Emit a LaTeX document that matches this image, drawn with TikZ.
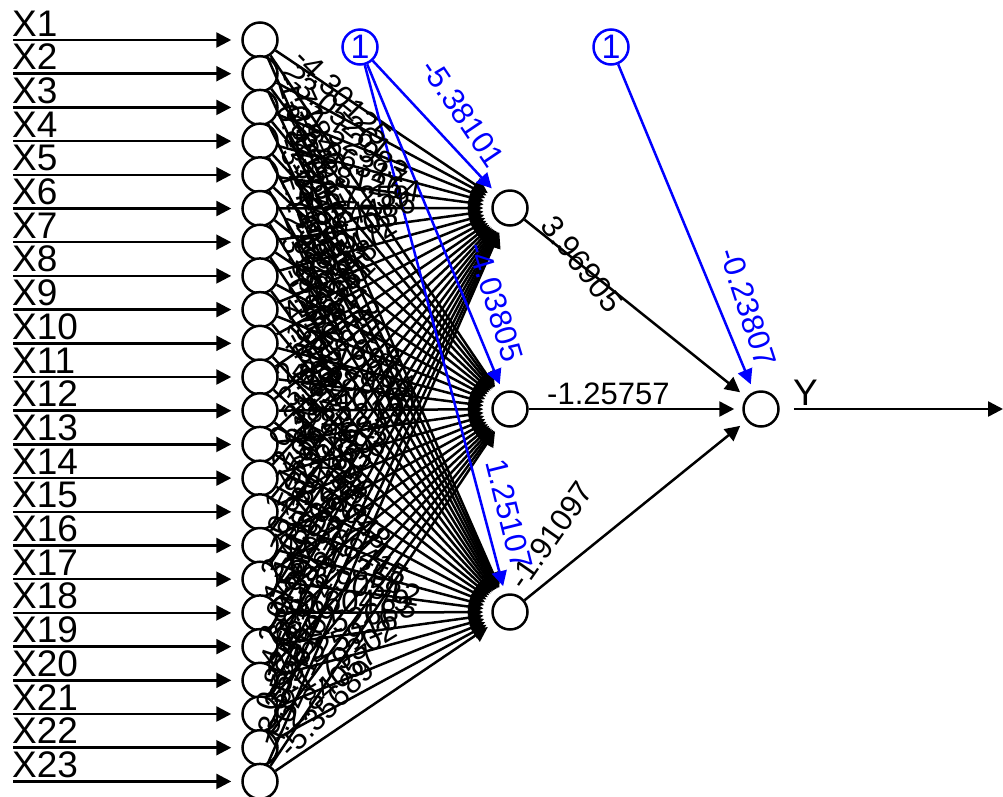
\documentclass[tikz,border=0pt]{standalone}
\usepackage{fontspec}
\setmainfont{Liberation Sans}
\usetikzlibrary{arrows.meta}
\begin{document}
\begin{tikzpicture}[x=1pt,y=-1pt,
  neuron/.style={circle,draw,line width=2.5pt,minimum size=35pt,inner sep=0pt,fill=white},
  biasnode/.style={neuron,draw=blue,text=blue,font=\fontsize{34}{34}\selectfont},
  edge/.style={line width=2.5pt,-{Triangle[length=15pt,width=15pt]},shorten >=8pt},
  wlab/.style={font=\fontsize{31}{31}\selectfont,inner sep=0pt},
  xlab/.style={font=\fontsize{37}{37}\selectfont,inner sep=0pt,anchor=base west},
]
\useasboundingbox (0,0) rectangle (1003,796);
% input nodes, labels and input arrows
\foreach \i in {1,...,23}{
  \pgfmathsetmacro\iy{40+(\i-1)*33.7}
  \node[neuron] (I\i) at (260,\iy) {};
  \coordinate (s\i) at (13,\iy);
  \node[xlab] (xl\i) at (12,\iy-4) {X\i};
  \draw[edge,shorten >=10pt] (s\i) -- (I\i);
}
% hidden, output, bias nodes
\node[neuron] (H1) at (510,208) {};
\node[neuron] (H2) at (510,409) {};
\node[neuron] (H3) at (510,612) {};
\node[neuron] (O) at (761,409) {};
\node[biasnode] (B1) at (360,47) {1};
\node[biasnode] (B2) at (611,47) {1};
\node[xlab] (ylab) at (793,405) {Y};
\coordinate (oe) at (1003,409);
\draw[edge,shorten >=0pt,shorten <=14pt] (O) -- (oe);
% input -> hidden edges
\foreach \i in {1,...,23}{
  \foreach \j in {1,2,3}{
    \draw[edge] (I\i) -- (H\j);
  }
}
% hidden -> output
\foreach \j in {1,2,3}{ \draw[edge] (H\j) -- (O); }
% bias edges
\draw[edge,blue] (B1) -- (H1);
\draw[edge,blue] (B1) -- (H2);
\draw[edge,blue] (B1) -- (H3);
\draw[edge,blue] (B2) -- (O);
% input weight labels
\foreach \i/\wa/\wb/\wc in {
1/-4.30125/2.71846/-1.08237,
2/3.05261/-2.64917/0.87534,
3/-1.52983/4.11876/-3.27405,
4/2.96317/-0.55821/1.74392,
5/-3.81264/1.39502/-2.06648,
6/0.67259/-4.52113/3.38817,
7/-2.24486/3.67041/-0.41926,
8/1.85703/-1.97358/2.50164,
9/-0.93472/2.28697/-4.16239,
10/4.40518/-3.12084/1.17725,
11/-1.66351/0.48932/-2.83596,
12/2.39847/-2.40761/0.92613,
13/-3.54702/1.82219/-1.35048,
14/0.31586/-0.76842/3.02771,
15/-2.91238/3.24593/-0.68415,
16/1.47069/-1.21936/2.11358,
17/-0.58294/2.60847/-3.90512,
18/3.73136/-3.48325/0.60479,
19/-1.14807/0.95612/-2.52683,
20/2.07544/-2.01397/4.25916,
21/-4.68139/1.56224/-1.79302,
22/0.82461/-0.36108/2.84057,
23/-3.35648/4.02713/-5.35689}{
  \pgfmathsetmacro\iy{40+(\i-1)*33.7}
  \foreach \hy/\w in {208/\wa,409/\wb,612/\wc}{
    \pgfmathsetmacro\dy{\hy-\iy}
    \pgfmathsetmacro\ea{atan2(\dy,250)}
    \pgfmathsetmacro\sx{260+38*cos(\ea)}
    \pgfmathsetmacro\sy{\iy+38*sin(\ea)}
    \pgfmathsetmacro\ta{-atan(1.5*\dy/250)}
    \node[wlab,anchor=south west,rotate=\ta] at (\sx,\sy) {\w};
  }
}
% hidden -> output labels
\node[wlab,rotate=-52] (l1) at (582,264) {3.96905};
\node[wlab,anchor=base west] (l2) at (547,404) {-1.25757};
\node[wlab,rotate=55] (l3) at (551,535) {-1.91097};
% bias labels
\node[wlab,blue,rotate=-56] (b1) at (463,113) {-5.38101};
\node[wlab,blue,rotate=-73] (b2) at (496,302) {-4.03805};
\node[wlab,blue,rotate=-76] (b3) at (509,514) {1.25107};
\node[wlab,blue,rotate=-72] (b4) at (748,307) {-0.23807};
\end{tikzpicture}
\end{document}
